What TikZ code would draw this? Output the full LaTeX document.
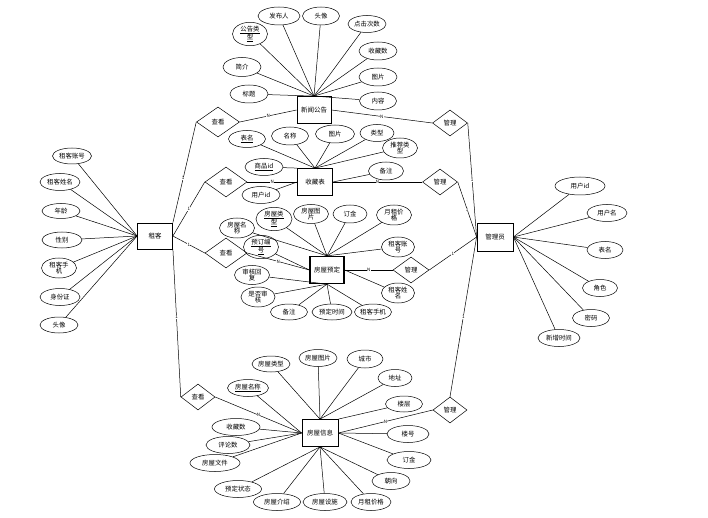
\documentclass[tikz,border=0pt]{standalone}
\usepackage{fontspec}
\setmainfont{Noto Sans CJK SC}
\usetikzlibrary{shapes.geometric}
\tikzset{
 ent/.style={draw, line width=0.8pt, minimum width=35pt, minimum height=27pt, inner sep=1pt, font=\fontsize{6.5}{7}\selectfont},
 attr/.style={ellipse, draw, line width=0.5pt, inner sep=0pt, align=center, font=\fontsize{6.4}{6.8}\selectfont},
 rel/.style={diamond, draw, line width=0.5pt, inner sep=0pt, font=\fontsize{6.4}{7}\selectfont},
 conn/.style={draw, line width=0.5pt},
 card/.style={font=\fontsize{4.5}{4.5}\selectfont, fill=white, inner sep=0.2pt},
}
\newcommand{\eattr}[6]{\node[attr, minimum width=#4pt, minimum height=#5pt] (#1) at (#2,#3) {#6};}
\begin{document}
\begin{tikzpicture}[x=1pt,y=-1pt]
\fill[white] (0,0) rectangle (708,518);
\useasboundingbox (0,0) rectangle (708,518);
% entities
\node[ent, minimum width=34pt] (xw) at (314,110) {新闻公告};
\node[ent] (sc) at (315,182) {收藏表};
\node[ent, line width=1.3pt, minimum width=34pt] (yd) at (327,270) {房屋预定};
\node[ent, minimum width=36pt] (fw) at (320,433) {房屋信息};
\node[ent, minimum height=26pt] (zk) at (155,236) {租客};
\node[ent, minimum width=36pt, minimum height=28pt] (gl) at (495,237) {管理员};
% relationships
\node[rel, minimum width=43pt, minimum height=30pt] (d1) at (218,122) {查看};
\node[rel, minimum width=42pt, minimum height=30pt] (d2) at (226,182) {查看};
\node[rel, minimum width=42pt, minimum height=30pt] (d3) at (226,253) {查看};
\node[rel, minimum width=34pt, minimum height=26pt] (d4) at (198,397) {查看};
\node[rel, minimum width=35pt, minimum height=26pt] (d5) at (450,123) {管理};
\node[rel, minimum width=35pt, minimum height=26pt] (d6) at (440,182) {管理};
\node[rel, minimum width=36pt, minimum height=26pt] (d7) at (411,270) {管理};
\node[rel, minimum width=34pt, minimum height=26pt] (d8) at (450,410) {管理};
% news attributes
\eattr{a1}{250}{34}{35}{19}{\underline{公告类}\\\underline{型}}
\eattr{a2}{279}{16}{42}{18}{发布人}
\eattr{a3}{321}{16}{37}{18}{头像}
\eattr{a4}{367}{24}{38}{17}{点击次数}
\eattr{a5}{378}{51}{38}{18}{收藏数}
\eattr{a6}{378}{77}{38}{18}{图片}
\eattr{a7}{378}{101}{37}{18}{内容}
\eattr{a8}{242}{67}{38}{19}{简介}
\eattr{a9}{249}{94}{38}{18}{标题}
\foreach \n in {a1,a2,a3,a4,a5,a6,a7,a8,a9} \draw[conn] (\n) -- (xw.north);
% storeup attributes
\eattr{b1}{247}{139}{37}{17}{\underline{表名}}
\eattr{b2}{290}{136}{37}{18}{名称}
\eattr{b3}{335}{134}{39}{18}{图片}
\eattr{b4}{377}{133}{34}{17}{类型}
\eattr{b5}{400}{148}{35}{20}{推荐类\\型}
\eattr{b6}{386}{171}{35}{18}{备注}
\eattr{b7}{264}{167}{38}{17}{\underline{商品id}}
\eattr{b8}{261}{195}{38}{17}{用户id}
\foreach \n in {b1,b2,b3,b4,b5} \draw[conn] (\n) -- (sc.north);
\draw[conn] (b6) -- (sc.east);
\draw[conn] (b7) -- (sc.north west);
\draw[conn] (b8) -- (sc.west);
% reservation attributes
\eattr{c1}{237}{228}{35}{20}{房屋名\\称}
\eattr{c2}{274}{219}{36}{19}{\underline{房屋类}\\\underline{型}}
\eattr{c3}{311}{214}{35}{19}{房屋图\\片}
\eattr{c4}{350}{214}{34}{18}{订金}
\eattr{c5}{394}{215}{35}{20}{月租价\\格}
\eattr{c6}{398}{247}{33}{20}{租客账\\号}
\eattr{c7}{398}{293}{33}{20}{租客姓\\名}
\eattr{c8}{373}{312}{37}{16}{租客手机}
\eattr{c9}{332}{312}{40}{16}{预定时间}
\eattr{c10}{289}{312}{37}{16}{备注}
\eattr{c11}{258}{297}{34}{20}{是否审\\核}
\eattr{c12}{252}{275}{35}{19}{审核回\\复}
\eattr{c13}{261}{247}{35}{19}{\underline{预订编}\\\underline{号}}
\foreach \n in {c1,c2,c3,c4,c5,c6} \draw[conn] (\n) -- (yd.north);
\draw[conn] (c7) -- (yd.east);
\foreach \n in {c8,c9,c10,c11,c12} \draw[conn] (\n) -- (yd.south);
\draw[conn] (c13) -- (yd.west);
% house attributes
\eattr{e1}{271}{364}{38}{16}{房屋类型}
\eattr{e2}{318}{358}{38}{17}{房屋图片}
\eattr{e3}{365}{359}{36}{18}{城市}
\eattr{e4}{395}{378}{34}{17}{地址}
\eattr{e5}{404}{404}{37}{16}{楼层}
\eattr{e6}{408}{434}{42}{17}{楼号}
\eattr{e7}{409}{460}{44}{17}{订金}
\eattr{e8}{391}{481}{38}{17}{朝向}
\eattr{e9}{371}{502}{40}{17}{月租价格}
\eattr{e10}{325}{502}{44}{17}{房屋设施}
\eattr{e11}{277}{502}{47}{17}{房屋介绍}
\eattr{e12}{238}{489}{47}{17}{预定状态}
\eattr{e13}{215}{463}{50}{17}{房屋文件}
\eattr{e14}{228}{445}{44}{17}{评论数}
\eattr{e15}{236}{427}{48}{17}{收藏数}
\eattr{e16}{248}{388}{41}{17}{\underline{房屋名称}}
\foreach \n in {e1,e2,e3,e4} \draw[conn] (\n) -- (fw.north);
\draw[conn] (e5) -- (fw.north east);
\foreach \n in {e6,e7} \draw[conn] (\n) -- (fw.east);
\foreach \n in {e8,e9,e10,e11,e12} \draw[conn] (\n) -- (fw.south);
\foreach \n in {e13,e14,e15,e16} \draw[conn] (\n) -- (fw.west);
% admin attributes
\eattr{g1}{580}{186}{50}{18}{用户id}
\eattr{g2}{607}{213}{40}{17}{用户名}
\eattr{g3}{605}{250}{36}{17}{表名}
\eattr{g4}{600}{288}{35}{17}{角色}
\eattr{g5}{591}{318}{37}{17}{密码}
\eattr{g6}{559}{338}{42}{17}{新增时间}
\foreach \n in {g1,g2,g3,g4,g5,g6} \draw[conn] (\n) -- (gl.east);
% tenant attributes
\eattr{z1}{72}{156}{39}{16}{租客账号}
\eattr{z2}{60}{182}{40}{17}{租客姓名}
\eattr{z3}{61}{211}{38}{15}{年龄}
\eattr{z4}{62}{240}{40}{16}{性别}
\eattr{z5}{59}{268}{35}{20}{租客手\\机}
\eattr{z6}{60}{297}{40}{17}{身份证}
\eattr{z7}{59}{325}{38}{16}{头像}
\foreach \n in {z1,z2,z3,z4,z5,z6,z7} \draw[conn] (\n) -- (zk.west);
% relationship connectors
\draw[conn] (zk.north east) -- node[card,pos=0.44]{1} (d1.west);
\draw[conn] (d1.east) -- node[card]{N} (xw.west);
\draw[conn] (zk.east) -- node[card]{1} (d2.west);
\draw[conn] (d2.east) -- node[card]{N} (sc.west);
\draw[conn] (zk.east) -- node[card]{1} (d3.west);
\draw[conn] (d3.east) -- node[card]{N} (yd.west);
\draw[conn] (zk.south east) -- node[card,pos=0.46]{1} (d4.west);
\draw[conn] (d4.east) -- node[card]{N} (fw.west);
\draw[conn] (xw.east) -- node[card]{N} (d5.west);
\draw[conn] (d5.east) -- node[card]{1} (gl.west);
\draw[conn] (sc.east) -- node[card]{N} (d6.west);
\draw[conn] (d6.east) -- node[card]{1} (gl.west);
\draw[conn] (yd.east) -- node[card]{N} (d7.west);
\draw[conn] (d7.east) -- node[card]{1} (gl.west);
\draw[conn] (fw.east) -- node[card]{N} (d8.west);
\draw[conn] (d8.north) -- node[card]{1} (gl.west);
\end{tikzpicture}
\end{document}
